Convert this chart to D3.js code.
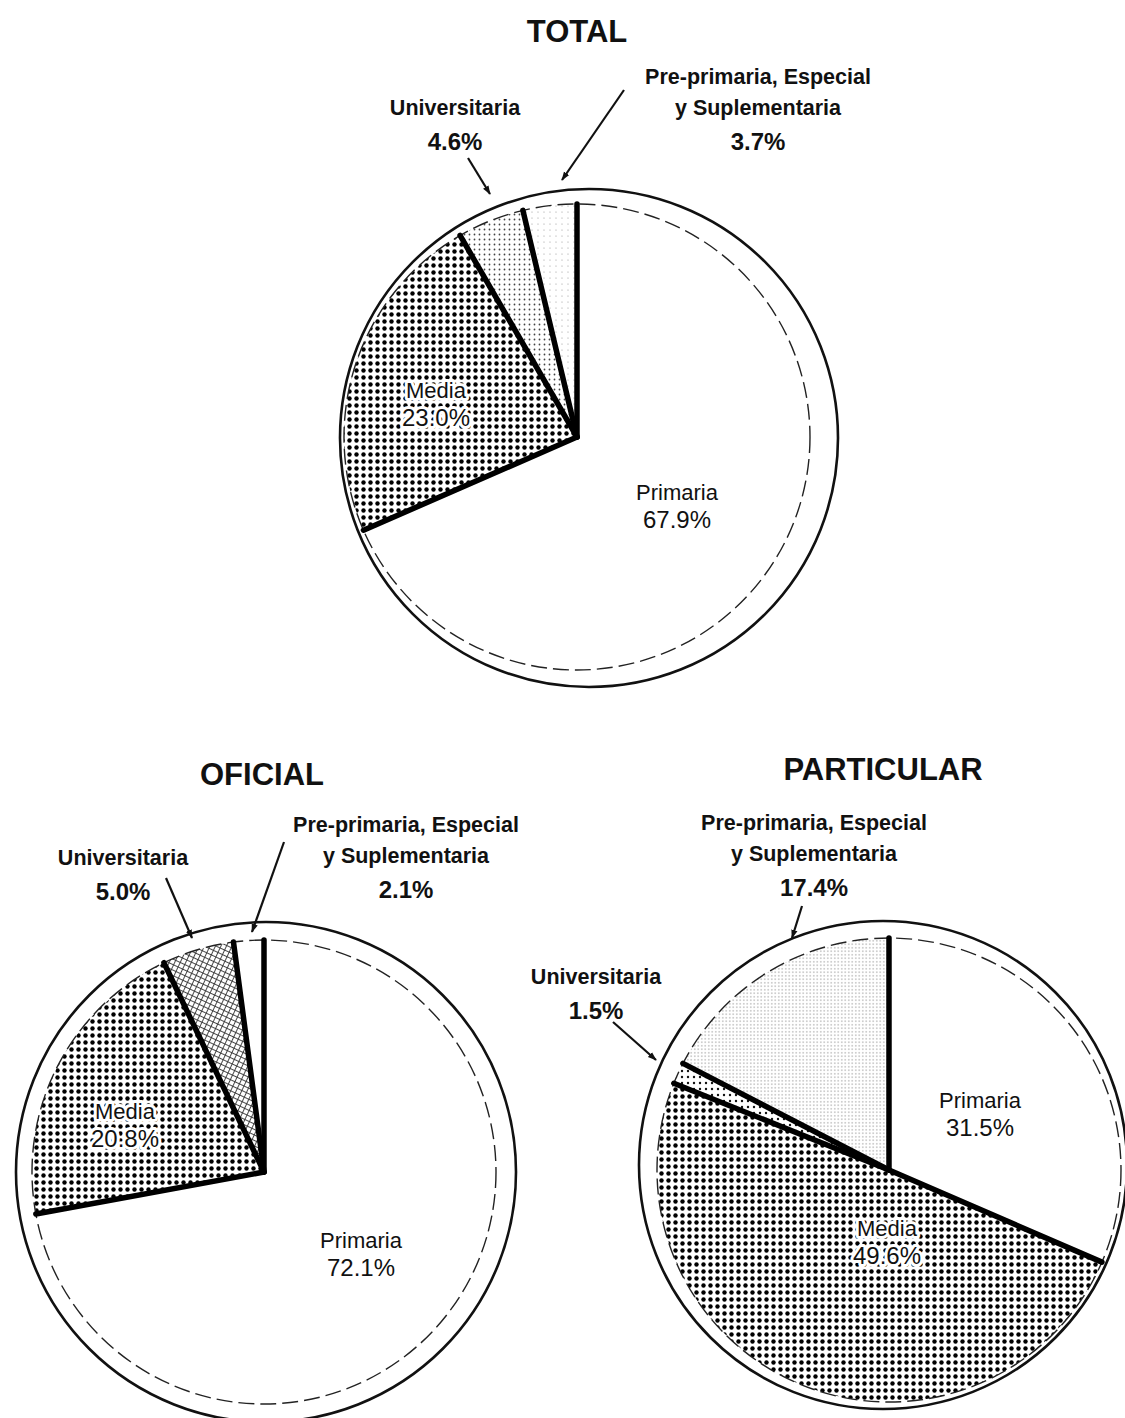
<!DOCTYPE html>
<html>
<head>
<meta charset="utf-8">
<script src="https://cdn.jsdelivr.net/npm/d3@7"></script>
<style>
    body { margin: 0; background: #fff; }
    svg { display: block; }
    text { font-family: "Liberation Sans", Arial, sans-serif; fill: #111; }
</style>
</head>
<body>
<svg id="chart" width="1125" height="1418"></svg>
<script>
// slices, drawn clockwise from 12 o'clock
var categories = ["Primaria", "Media", "Universitaria", "Pre-primaria, Especial y Suplementaria"];
var chartTitles = ["TOTAL", "OFICIAL", "PARTICULAR"];

// percentages
var totalPct = [67.9, 23.0, 4.6, 3.7];
var oficialPct = [72.1, 20.8, 5.0, 2.1];
var particularPct = [31.5, 49.6, 1.5, 17.4];

var pctFormat = function (v) { return d3.format(".1f")(v) + "%"; };

// where each pie sits on the page and how its labels are placed
var charts = [
    {
        title: chartTitles[0], values: totalPct,
        cx: 577, cy: 437, r: 233, ringDx: 12, ringDy: 1, ringR: 249,
        titleX: 577, titleY: 42,
        fills: ["#fff", "url(#dotsDense)", "url(#dotsLight)", "url(#dotsFaint)"],
        inner: [ {i: 0, x: 677, y: 500}, {i: 1, x: 436, y: 398} ],
        outer: [
            {i: 2, lines: ["Universitaria"], x: 455, y: 115, arrow: [[468, 158], [490, 194]]},
            {i: 3, lines: ["Pre-primaria, Especial", "y Suplementaria"], x: 758, y: 84, arrow: [[624, 90], [562, 180]]}
        ]
    },
    {
        title: chartTitles[1], values: oficialPct,
        cx: 264, cy: 1172, r: 232, ringDx: 2, ringDy: 0, ringR: 250,
        titleX: 262, titleY: 785,
        fills: ["#fff", "url(#dotsDense)", "url(#crossHatch)", "#fff"],
        inner: [ {i: 0, x: 361, y: 1248}, {i: 1, x: 125, y: 1119} ],
        outer: [
            {i: 2, lines: ["Universitaria"], x: 123, y: 865, arrow: [[166, 878], [192, 938]]},
            {i: 3, lines: ["Pre-primaria, Especial", "y Suplementaria"], x: 406, y: 832, arrow: [[284, 842], [252, 932]]}
        ]
    },
    {
        title: chartTitles[2], values: particularPct,
        cx: 889, cy: 1170, r: 232, ringDx: -6, ringDy: -5, ringR: 244,
        titleX: 883, titleY: 780,
        fills: ["#fff", "url(#dotsDense)", "url(#dotsSparse)", "url(#dotsFine)"],
        inner: [ {i: 0, x: 980, y: 1108}, {i: 1, x: 887, y: 1236} ],
        outer: [
            {i: 2, lines: ["Universitaria"], x: 596, y: 984, arrow: [[613, 1022], [656, 1060]]},
            {i: 3, lines: ["Pre-primaria, Especial", "y Suplementaria"], x: 814, y: 830, arrow: [[802, 906], [792, 938]]}
        ]
    }
];

var svg = d3.select("#chart");
svg.append("rect").attr("width", 1125).attr("height", 1418).attr("fill", "#fff");

// fill patterns (halftone screens of the print)
var defs = svg.append("defs");
function dotPattern(id, size, radius, color) {
    var p = defs.append("pattern")
        .attr("id", id)
        .attr("patternUnits", "userSpaceOnUse")
        .attr("width", size).attr("height", size);
    p.append("rect").attr("width", size).attr("height", size).attr("fill", "#fff");
    p.append("circle")
        .attr("cx", size / 2).attr("cy", size / 2)
        .attr("r", radius).attr("fill", color);
}
dotPattern("dotsDense", 7, 2.2, "#000");
dotPattern("dotsLight", 5, 0.9, "#444");
dotPattern("dotsFaint", 6, 0.6, "#999");
dotPattern("dotsSparse", 6, 1.2, "#111");
dotPattern("dotsFine", 3.5, 0.6, "#777");

var hatch = defs.append("pattern")
    .attr("id", "crossHatch")
    .attr("patternUnits", "userSpaceOnUse")
    .attr("width", 5).attr("height", 5)
    .attr("patternTransform", "rotate(25)");
hatch.append("rect").attr("width", 5).attr("height", 5).attr("fill", "#fff");
hatch.append("path")
    .attr("d", "M0,0.5H5M0.5,0V5")
    .attr("stroke", "#333").attr("stroke-width", 0.9);

var arrowHead = defs.append("marker")
    .attr("id", "arrow")
    .attr("viewBox", "0 0 10 10")
    .attr("refX", 9).attr("refY", 5)
    .attr("markerWidth", 9).attr("markerHeight", 9)
    .attr("markerUnits", "userSpaceOnUse")
    .attr("orient", "auto");
arrowHead.append("path").attr("d", "M0,1.5L10,5L0,8.5Z").attr("fill", "#111");

var pie = d3.pie().sort(null).value(function (d) { return d; });

charts.forEach(function (c) {
    var g = svg.append("g").attr("transform", "translate(" + c.cx + "," + c.cy + ")");
    var arcs = pie(c.values);
    var arc = d3.arc().innerRadius(0).outerRadius(c.r);

    // outer ring of the drawing
    g.append("circle")
        .attr("cx", c.ringDx).attr("cy", c.ringDy).attr("r", c.ringR)
        .attr("fill", "none").attr("stroke", "#111").attr("stroke-width", 2.6);

    g.selectAll("path.slice")
        .data(arcs)
        .enter().append("path")
        .attr("class", "slice")
        .attr("d", arc)
        .attr("fill", function (d, i) { return c.fills[i]; });

    // dashed edge of the pie itself
    g.append("circle")
        .attr("r", c.r)
        .attr("fill", "none").attr("stroke", "#222")
        .attr("stroke-width", 1.4).attr("stroke-dasharray", "16 6");

    // heavy dividing strokes
    g.selectAll("line.divider")
        .data(arcs)
        .enter().append("line")
        .attr("class", "divider")
        .attr("x1", 0).attr("y1", 0)
        .attr("x2", function (d) { return c.r * Math.sin(d.startAngle); })
        .attr("y2", function (d) { return -c.r * Math.cos(d.startAngle); })
        .attr("stroke", "#000").attr("stroke-width", 5.5)
        .attr("stroke-linecap", "round");

    // title
    svg.append("text")
        .attr("x", c.titleX).attr("y", c.titleY)
        .attr("text-anchor", "middle")
        .attr("font-size", 31).attr("font-weight", "bold")
        .text(c.title);

    // labels inside the slices
    c.inner.forEach(function (lab) {
        [categories[lab.i], pctFormat(c.values[lab.i])].forEach(function (s, k) {
            svg.append("text")
                .attr("x", lab.x).attr("y", lab.y + k * 28)
                .attr("text-anchor", "middle")
                .attr("font-size", k === 0 ? 22 : 24)
                .attr("stroke", "#fff").attr("stroke-width", 6)
                .attr("stroke-linejoin", "round")
                .attr("paint-order", "stroke")
                .text(s);
        });
    });

    // labels outside with arrows
    c.outer.forEach(function (lab) {
        var lines = lab.lines.concat([pctFormat(c.values[lab.i])]);
        lines.forEach(function (s, k) {
            var last = k === lines.length - 1;
            svg.append("text")
                .attr("x", lab.x).attr("y", lab.y + k * 31 + (last ? 4 : 0))
                .attr("text-anchor", "middle")
                .attr("font-size", last ? 24 : 21.5)
                .attr("font-weight", "bold")
                .text(s);
        });
        svg.append("line")
            .attr("x1", lab.arrow[0][0]).attr("y1", lab.arrow[0][1])
            .attr("x2", lab.arrow[1][0]).attr("y2", lab.arrow[1][1])
            .attr("stroke", "#111").attr("stroke-width", 2.2)
            .attr("marker-end", "url(#arrow)");
    });
});
</script>
</body>
</html>
